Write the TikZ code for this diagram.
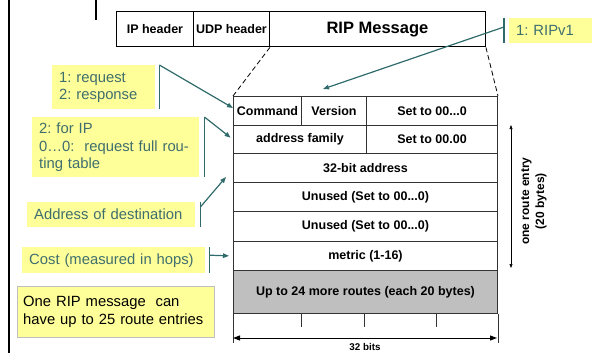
\documentclass[tikz,border=0pt]{standalone}
\usepackage{fontspec}
\setmainfont{Liberation Sans}
\usetikzlibrary{arrows.meta,calc}

\definecolor{noteyellow}{HTML}{FFFF99}
\definecolor{noteteal}{HTML}{3F6E6E}
\definecolor{leadteal}{HTML}{2F6B6B}

\begin{document}
\frenchspacing
\begin{tikzpicture}[x=1pt,y=-1pt,
    hdr/.style={draw, line width=0.9pt, anchor=north west, inner sep=0pt,
        minimum height=35.5pt, font=\bfseries\fontsize{12.5}{15}\selectfont},
    cell/.style={draw=black!80, line width=1pt, anchor=north west, inner sep=0pt,
        font=\bfseries\fontsize{12.5}{15}\selectfont},
    note/.style={fill=noteyellow, text=noteteal, anchor=north west, inner xsep=7pt,
        inner ysep=0pt, align=left, font=\fontsize{14.8}{17.5}\selectfont},
    lead/.style={draw=leadteal, line width=1.2pt},
    pointer/.style={lead, -{Triangle[length=6pt,width=4.5pt]}}]
    \useasboundingbox (0,0) rectangle (592,353);

    % Slide edges
    \draw[line width=2pt] (9,0) -- (9,353);
    \draw[line width=2.5pt] (96,0) -- (96,20);

    % Packet header
    \node[hdr, minimum width=77pt] (iph) at (116,11) {IP header};
    \node[hdr, minimum width=76pt] (udp) at (193,11) {UDP header};
    \node[hdr, minimum width=216pt, font=\bfseries\fontsize{16.5}{20}\selectfont]
        (rip) at (269,11) {RIP Message};

    % RIP message layout
    \node[cell, minimum width=68pt, minimum height=29pt] (cmd) at (233,96) {Command};
    \node[cell, minimum width=65pt, minimum height=29pt] (ver) at (301,96) {Version};
    \node[cell, minimum width=131pt, minimum height=29pt] (set1) at (366,96) {Set to 00...0};
    \node[cell, minimum width=133pt, minimum height=28pt] (fam) at (233,125) {address family};
    \node[cell, minimum width=131pt, minimum height=28pt] (set2) at (366,125) {Set to 00.00};
    \node[cell, minimum width=264pt, minimum height=29pt] (addr) at (233,153) {32-bit address};
    \node[cell, minimum width=264pt, minimum height=29pt] (unu1) at (233,182) {Unused (Set to 00...0)};
    \node[cell, minimum width=264pt, minimum height=30pt] (unu2) at (233,211) {Unused (Set to 00...0)};
    \node[cell, minimum width=264pt, minimum height=29pt] (metric) at (233,241) {metric (1-16)};
    \node[cell, minimum width=264pt, minimum height=43pt, fill=black!25] (more) at (233,270)
        {Up to 24 more routes (each 20 bytes)};

    % Zoom lines
    \draw[dashed, dash pattern=on 5pt off 3pt, line width=0.8pt] (udp.south east) -- (cmd.north west);
    \draw[dashed, dash pattern=on 5pt off 3pt, line width=0.8pt] (rip.south east) -- (set1.north east);

    % Width scale
    \draw[black!80, line width=1pt] (more.south west) -- ++(0,29);
    \draw[black!80, line width=1pt] (more.south east) -- ++(0,29);
    \foreach \tx in {301,364,436}
        \draw[black!80, line width=1pt] (\tx,313) -- (\tx,327);
    \coordinate (bL) at (233,338);
    \coordinate (bR) at (497,338);
    \draw[line width=1pt, {Triangle[length=7pt,width=5pt]}-{Triangle[length=7pt,width=5pt]}] (bL) -- (bR);
    \node[font=\bfseries\fontsize{9.8}{12}\selectfont] (bits) at (365,347) {32 bits};

    % Route entry height
    \coordinate (eTop) at ($(set2.north east)+(13,0)$);
    \coordinate (eBot) at ($(metric.south east)+(13,-3)$);
    \draw[line width=0.6pt, {Triangle[length=4pt,width=3pt]}-{Triangle[length=4pt,width=3pt]}] (eTop) -- (eBot);
    \node[rotate=90, align=center, font=\bfseries\fontsize{12}{15}\selectfont]
        (entry) at (534,201) {one route entry\\(20 bytes)};

    % Notes
    \node[note, text width=89pt, minimum height=44pt] (nCmd) at (52,65) {1: request\\2: response};
    \node[note, text width=153pt, minimum height=60pt] (nFam) at (32,117)
        {2: for IP\\0…0:~ request full rou-\\ting table};
    \node[note, text width=154pt, minimum height=25pt] (nAddr) at (27,202) {Address of destination};
    \node[note, text width=169pt, minimum height=26pt] (nCost) at (22,247) {Cost (measured in hops)};
    \node[note, text=black, draw=black!25, text width=185pt, inner xsep=6pt, minimum height=51pt]
        (nOne) at (17,286) {One RIP message~ can\\have up to 25 route entries};
    \node[note, text width=69pt, minimum height=25pt] (nVer) at (509,18) {1: RIPv1};

    % Note leads
    \draw[lead] ($(nCmd.north east)+(4,0)$) -- ($(nCmd.south east)+(4,0)$);
    \draw[pointer] ($(nCmd.north east)+(4,0)$) -- ($(cmd.west)+(0,-3)$);
    \draw[lead] ($(nFam.north east)+(5,0)$) -- ($(nFam.south east)+(5,0)$);
    \draw[pointer, shorten >=3pt] ($(nFam.north east)+(5,0)$) -- (fam.west);
    \draw[lead] ($(nAddr.north east)+(5,0)$) -- ($(nAddr.south east)+(5,0)$);
    \draw[pointer] ($(nAddr.north east)+(5,5)$) -- ($(addr.west)+(-7,9)$);
    \draw[lead] ($(nCost.north east)+(4,0)$) -- ($(nCost.south east)+(4,0)$);
    \draw[pointer, shorten >=4pt] ($(nCost.east)+(4,-5)$) -- (metric.west);
    \draw[lead] ($(nVer.north west)+(-5,0)$) -- ($(nVer.south west)+(-5,0)$);
    \draw[pointer] ($(nVer.north west)+(-5,9)$) -- ($(ver.north)+(-11,-7)$);
\end{tikzpicture}
\end{document}
